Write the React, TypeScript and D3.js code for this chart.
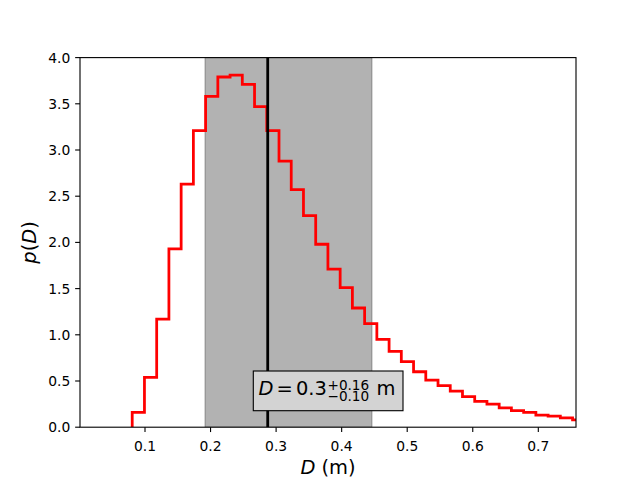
import React from "react";
import * as d3 from "d3";

// Histogram of D (density), 37 equal-width bins
const binStart = 0.0805;
const binWidth = 0.01866;
const density = [
  0.16, 0.54, 1.17, 1.93, 2.63, 3.21, 3.58, 3.79, 3.81, 3.71, 3.47, 3.21, 2.88,
  2.57, 2.29, 1.98, 1.71, 1.51, 1.29, 1.12, 0.95, 0.82, 0.71, 0.6, 0.51, 0.45,
  0.39, 0.33, 0.28, 0.25, 0.21, 0.18, 0.16, 0.13, 0.12, 0.1, 0.08,
];
const median = 0.2872;
const lower = 0.1915;
const upper = 0.4463;
const xTicks = [0.1, 0.2, 0.3, 0.4, 0.5, 0.6, 0.7];
const yTicks = [0, 0.5, 1, 1.5, 2, 2.5, 3, 3.5, 4];

const W = 640;
const H = 480;
const L = 80;
const R = 576;
const T = 57.6;
const B = 427.2;
const FONT = "'DejaVu Sans', sans-serif";

export default function App() {
  const x = d3.scaleLinear().domain([0.00084, 0.7575]).range([L, R]);
  const y = d3.scaleLinear().domain([0, 4]).range([B, T]);

  const pts: [number, number][] = [];
  pts.push([binStart, 0]);
  density.forEach((v, i) => {
    pts.push([binStart + i * binWidth, v]);
    pts.push([binStart + (i + 1) * binWidth, v]);
  });
  pts.push([binStart + density.length * binWidth, 0]);
  const line = d3
    .line<[number, number]>()
    .x((d) => x(d[0]))
    .y((d) => y(d[1]));

  const cx = (L + R) / 2;
  const fs = 19.44;
  const sfs = 13.6;

  return (
    <svg
      width={W}
      height={H}
      style={{ position: "absolute", left: 0, top: 0, background: "#fff" }}
      fontFamily={FONT}
    >
      <defs>
        <clipPath id="plotclip">
          <rect x={L} y={T} width={R - L} height={B - T} />
        </clipPath>
      </defs>
      <rect x={0} y={0} width={W} height={H} fill="#fff" />
      <g clipPath="url(#plotclip)">
        <rect
          x={x(lower)}
          y={T}
          width={x(upper) - x(lower)}
          height={B - T}
          fill="#000"
          fillOpacity={0.3}
          stroke="#000"
          strokeOpacity={0.3}
          strokeWidth={1}
        />
        <path
          d={line(pts) || ""}
          fill="none"
          stroke="#ff0000"
          strokeWidth={2.78}
          strokeLinejoin="miter"
        />
        <line
          x1={x(median)}
          x2={x(median)}
          y1={T}
          y2={B}
          stroke="#000"
          strokeWidth={2.78}
        />
      </g>
      {/* spines */}
      <rect
        x={L}
        y={T}
        width={R - L}
        height={B - T}
        fill="none"
        stroke="#000"
        strokeWidth={1.11}
      />
      {/* x ticks */}
      {xTicks.map((t) => (
        <g key={"x" + t}>
          <line x1={x(t)} x2={x(t)} y1={B} y2={B + 4.86} stroke="#000" strokeWidth={1.11} />
          <text x={x(t)} y={B + 23.5} fontSize={13.89} textAnchor="middle" fill="#000">
            {t.toFixed(1)}
          </text>
        </g>
      ))}
      {/* y ticks */}
      {yTicks.map((t) => (
        <g key={"y" + t}>
          <line x1={L - 4.86} x2={L} y1={y(t)} y2={y(t)} stroke="#000" strokeWidth={1.11} />
          <text x={L - 9.7} y={y(t) + 5} fontSize={13.89} textAnchor="end" fill="#000">
            {t.toFixed(1)}
          </text>
        </g>
      ))}
      {/* axis labels */}
      <text x={cx} y={474} fontSize={fs} textAnchor="middle" fill="#000">
        <tspan fontStyle="italic">D</tspan> (m)
      </text>
      <text
        transform={`translate(36, ${(T + B) / 2}) rotate(-90)`}
        fontSize={fs}
        textAnchor="middle"
        fill="#000"
      >
        <tspan fontStyle="italic">p</tspan>(<tspan fontStyle="italic">D</tspan>)
      </text>
      {/* annotation box */}
      <g>
        <rect
          x={cx - 74.7}
          y={371}
          width={149.7}
          height={39.7}
          fill="#d3d3d3"
          stroke="#000"
          strokeWidth={1.11}
        />
        <text fontSize={fs} fill="#000">
          <tspan x={cx - 69.5} y={395} fontStyle="italic">D</tspan>
          <tspan x={cx - 51.5} y={395}>=</tspan>
          <tspan x={cx - 32} y={395}>0.3</tspan>
          <tspan x={cx - 0.5} y={389.5} fontSize={sfs}>+0.16</tspan>
          <tspan x={cx - 0.5} y={400.7} fontSize={sfs}>−0.10</tspan>
          <tspan x={cx + 48.5} y={395}>m</tspan>
        </text>
      </g>
    </svg>
  );
}
